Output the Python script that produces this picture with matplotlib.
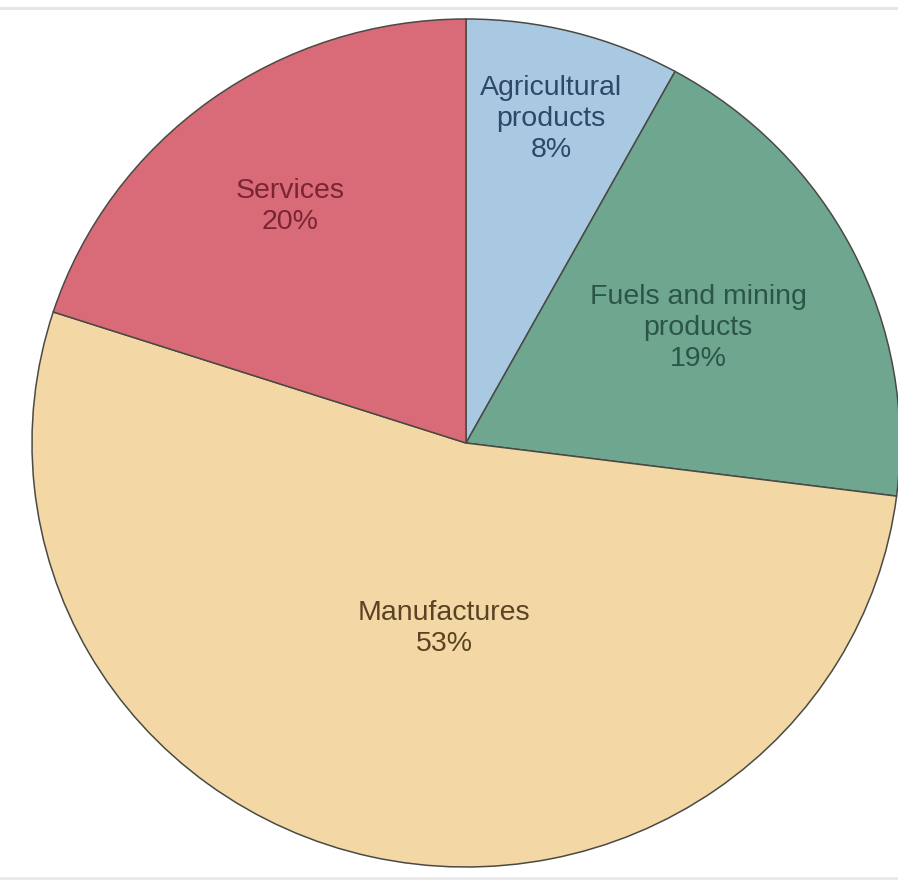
import matplotlib.pyplot as plt
import numpy as np

plt.rcParams['font.family'] = ['Liberation Sans', 'DejaVu Sans']

categories = ['Agricultural\nproducts', 'Fuels and mining\nproducts', 'Manufactures', 'Services']
shares = [8, 19, 53, 20]
colors = ['#a9c9e2', '#6fa690', '#f3d8a6', '#d96b78']
text_colors = ['#2e4865', '#2b5646', '#5a4324', '#7a2434']
label_dist = [0.79, 0.60, 0.44, 0.69]
label_turn = [0, 0, 6, 0]  # small angular nudges (deg)

W, H = 898, 884
cx, cy = 466, 443      # pie centre, pixels from top-left
Rx, Ry = 434, 424      # scanned pie is a touch wider than tall

fig = plt.figure(figsize=(W / 100, H / 100), dpi=100)
ax = fig.add_axes([0, 0, 1, 1])

wedges, _ = ax.pie(shares, colors=colors, startangle=90, counterclock=False,
                   frame=True,
                   wedgeprops=dict(edgecolor='#4a4a44', linewidth=1.1))
ax.set_aspect('auto')
ax.set_xlim(-cx / Rx, (W - cx) / Rx)
ax.set_ylim(-(H - cy) / Ry, cy / Ry)
ax.axis('off')

for w, name, val, tc, d, turn in zip(wedges, categories, shares, text_colors, label_dist, label_turn):
    mid = np.deg2rad((w.theta1 + w.theta2) / 2 + turn)
    ax.text(d * np.cos(mid), d * np.sin(mid), f'{name}\n{val}%', ha='center', va='center',
            fontsize=20.5, color=tc, linespacing=1.25)

# faint scan border lines
fig.add_artist(plt.Line2D([0, 1], [1 - 8 / H, 1 - 8 / H], color='#e8e4e2', lw=2))
fig.add_artist(plt.Line2D([0, 1], [6 / H, 6 / H], color='#e8e8e8', lw=2))

fig.savefig('out.png', dpi=100, facecolor='white')
